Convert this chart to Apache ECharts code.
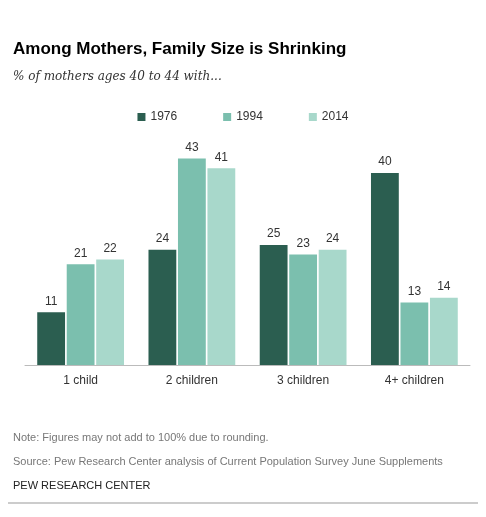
<!DOCTYPE html>
<html>
<head>
<meta charset="utf-8">
<script src="https://cdn.jsdelivr.net/npm/echarts@6/dist/echarts.min.js"></script>
<style>
  body { margin: 0; background: #fff; }
  #chart { width: 486px; height: 517px; }
</style>
</head>
<body>
<div id="chart"></div>
<script>
var categories = ['1 child', '2 children', '3 children', '4+ children'];
var years = ['1976', '1994', '2014'];
var values1976 = [11, 24, 25, 40];
var values1994 = [21, 43, 23, 13];
var values2014 = [22, 41, 24, 14];
var colors = ['#2b5e50', '#7bbfae', '#a8d8cb'];

var chart = echarts.init(document.getElementById('chart'));

var makeSeries = function (name, data, color) {
    return {
        name: name,
        type: 'bar',
        data: data,
        barGap: '6%',
        barCategoryGap: '22%',
        itemStyle: { color: color },
        label: {
            show: true,
            position: 'top',
            distance: 5,
            color: '#333',
            fontFamily: 'Liberation Sans',
            fontSize: 12
        }
    };
};

chart.setOption({
    animation: false,
    graphic: [
        { type: 'line', shape: { x1: 8, y1: 503, x2: 478, y2: 503 }, style: { stroke: '#999', lineWidth: 1 } }
    ],
    title: [
        { text: 'Among Mothers, Family Size is Shrinking', left: 8, top: 36,
          textStyle: { fontFamily: 'Liberation Sans', fontWeight: 'bold', fontSize: 17, color: '#000' } },
        { text: '% of mothers ages 40 to 44 with...', left: 8, top: 66,
          textStyle: { fontFamily: 'DejaVu Serif', fontStyle: 'italic', fontWeight: 'normal', fontSize: 12, color: '#333' } },
        { text: 'Note: Figures may not add to 100% due to rounding.', left: 8, top: 427,
          textStyle: { fontFamily: 'Liberation Sans', fontWeight: 'normal', fontSize: 11, color: '#777' } },
        { text: 'Source: Pew Research Center analysis of Current Population Survey June Supplements', left: 8, top: 451,
          textStyle: { fontFamily: 'Liberation Sans', fontWeight: 'normal', fontSize: 11, color: '#777' } },
        { text: 'PEW RESEARCH CENTER', left: 8, top: 475,
          textStyle: { fontFamily: 'Liberation Sans', fontWeight: 'normal', fontSize: 11, color: '#222' } }
    ],
    legend: {
        data: years,
        top: 106,
        left: 'center',
        itemWidth: 8,
        itemHeight: 8,
        itemGap: 46,
        icon: 'rect',
        textStyle: { fontFamily: 'Liberation Sans', fontSize: 12, color: '#333' }
    },
    grid: { left: 25, right: 16, top: 149, bottom: 152 },
    xAxis: {
        type: 'category',
        data: categories,
        axisTick: { show: false },
        axisLine: { lineStyle: { color: '#bbb' } },
        axisLabel: { fontFamily: 'Liberation Sans', fontSize: 12, color: '#333', margin: 10 }
    },
    yAxis: {
        type: 'value',
        min: 0,
        max: 45,
        show: false,
        splitLine: { show: false }
    },
    series: [
        makeSeries(years[0], values1976, colors[0]),
        makeSeries(years[1], values1994, colors[1]),
        makeSeries(years[2], values2014, colors[2])
    ]
});
</script>
</body>
</html>
